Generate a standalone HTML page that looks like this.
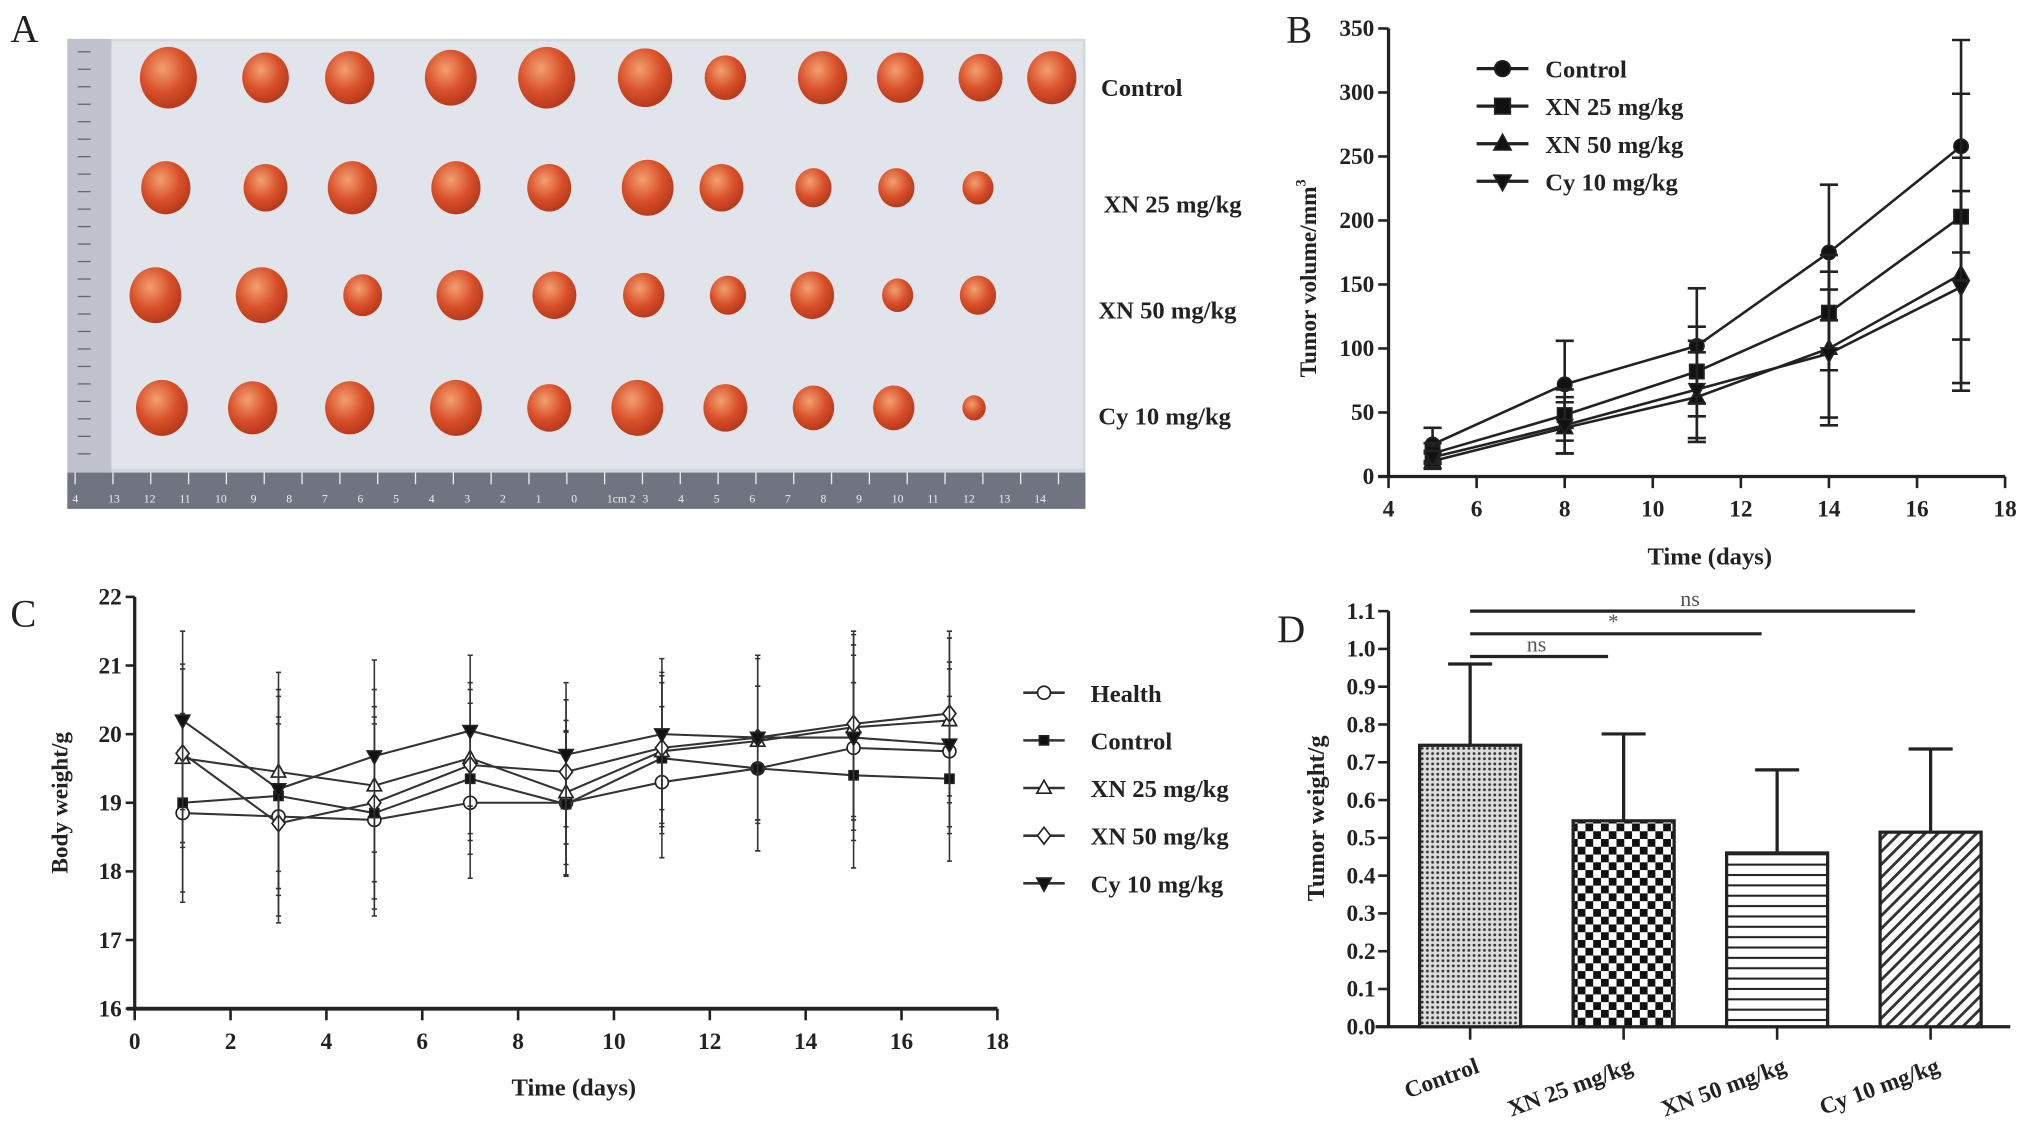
<!DOCTYPE html>
<html><head><meta charset="utf-8"><style>
body{margin:0;background:#fff}
svg{display:block}
text{font-family:"Liberation Serif",serif;font-weight:bold;fill:#222}
text.n{font-weight:normal}
</style></head><body>
<svg id="s" width="2031" height="1142" viewBox="0 0 1568 882" preserveAspectRatio="none" xmlns="http://www.w3.org/2000/svg">
<defs>
<pattern id="pDots" width="4" height="4" patternUnits="userSpaceOnUse"><rect width="4" height="4" fill="#ddd"/><circle cx="2" cy="2" r="1.1" fill="#333"/></pattern>
<pattern id="pCheck" width="12" height="12" patternUnits="userSpaceOnUse"><rect width="12" height="12" fill="#fff"/><rect width="6" height="6" fill="#111"/><rect x="6" y="6" width="6" height="6" fill="#111"/></pattern>
<pattern id="pHoriz" width="8" height="8" patternUnits="userSpaceOnUse"><rect width="8" height="8" fill="#fff"/><rect y="3" width="8" height="1.6" fill="#222"/></pattern>
<pattern id="pDiag" width="7" height="7" patternUnits="userSpaceOnUse" patternTransform="rotate(45)"><rect width="7" height="7" fill="#fff"/><rect width="2.2" height="7" fill="#333"/></pattern>
<radialGradient id="tum" cx="40%" cy="35%" r="65%"><stop offset="0" stop-color="#f2a070"/><stop offset="0.6" stop-color="#d9502a"/><stop offset="1" stop-color="#b83a1c"/></radialGradient>
</defs>
<g id="A"></g><g id="B"></g><g id="C"></g><g id="D"></g>
</svg>
<script>
const NS="http://www.w3.org/2000/svg";
function mk(p,t,a,txt){const e=document.createElementNS(NS,t);for(const k in a)e.setAttribute(k,a[k]);if(txt!==undefined)e.textContent=txt;p.appendChild(e);return e;}
// ---------- Panel B data ----------
const bDays=[5,8,11,14,17];
const bNames=["Control","XN 25 mg/kg","XN 50 mg/kg","Cy 10 mg/kg"];
const bControl=[25,72,102,175,258];
const bXN25=[18,48,82,128,203];
const bXN50=[12,38,62,100,158];
const bCy=[15,40,68,96,148];
const bErrControl=[13,34,45,53,83];
const bErrXN25=[8,20,35,45,96];
const bErrXN50=[6,20,35,60,91];
const bErrCy=[5,22,38,50,75];
const bTicksY=[0,50,100,150,200,250,300,350];
const bTicksX=[4,6,8,10,12,14,16,18];
// ---------- Panel C data ----------
const cDays=[1,3,5,7,9,11,13,15,17];
const cNames=["Health","Control","XN 25 mg/kg","XN 50 mg/kg","Cy 10 mg/kg"];
const cHealth=[18.85,18.8,18.75,19.0,19.0,19.3,19.5,19.8,19.75];
const cControl=[19.0,19.1,18.85,19.35,18.98,19.65,19.5,19.4,19.35];
const cXN25=[19.65,19.45,19.25,19.65,19.15,19.75,19.9,20.1,20.2];
const cXN50=[19.72,18.7,19.0,19.55,19.45,19.8,19.95,20.15,20.3];
const cCy=[20.2,19.2,19.68,20.05,19.7,20.0,19.95,19.95,19.85];
const cErr=[1.3,1.45,1.4,1.1,1.05,1.1,1.2,1.35,1.2];
const cTicksY=[16,17,18,19,20,21,22];
const cTicksX=[0,2,4,6,8,10,12,14,16,18];
// ---------- Panel D data ----------
const dCats=["Control","XN 25 mg/kg","XN 50 mg/kg","Cy 10 mg/kg"];
const dVals=[0.745,0.545,0.46,0.515];
const dErr=[0.215,0.23,0.22,0.22];
const dTicksY=[0,0.1,0.2,0.3,0.4,0.5,0.6,0.7,0.8,0.9,1.0,1.1];
const dSig=[{a:0,b:1,y:0.98,t:"ns"},{a:0,b:2,y:1.04,t:"*"},{a:0,b:3,y:1.1,t:"ns"}];

// ---------- Panel A (photo) ----------
const A=document.getElementById('A');
let e=mk(A,'text',{x:8,y:32,'font-size':30,class:'n'},'A');

e=mk(A,'rect',{x:52,y:30,width:786,height:363,fill:'#d4d7e0'});

mk(A,'rect',{x:62,y:32,width:774,height:330,fill:'#e2e4ec'});
mk(A,'rect',{x:52,y:30,width:34,height:335,fill:'#bfc2cc'});
mk(A,'rect',{x:52,y:365,width:786,height:28,fill:'#6f7480'});
for(let i=0;i<=26;i++){const x=58+i*29.2;mk(A,'line',{x1:x,y1:365,x2:x,y2:374,stroke:'#eee','stroke-width':1});}
const rulerN=["4","13","12","11","10","9","8","7","6","5","4","3","2","1","0","1cm 2","3","4","5","6","7","8","9","10","11","12","13","14"];
rulerN.forEach((t,i)=>mk(A,'text',{x:56+i*27.5,y:388,'font-size':9,class:'n',style:'fill:#eee'},t));
for(let i=0;i<24;i++){mk(A,'line',{x1:60,y1:40+i*13.5,x2:70,y2:40+i*13.5,stroke:'#666','stroke-width':1});}
const rowsY=[60,145,228,315];
const rowsX=[[130,205,270,348,422,498,560,635,695,757,812],[128,205,272,352,424,500,557,628,692,755],[120,202,280,355,428,497,562,627,693,755],[125,195,270,352,424,492,560,628,690,752]];
const rowsR=[[22,18,19,20,22,21,16,19,18,17,19],[19,17,19,19,17,20,17,14,14,12],[20,20,15,18,17,16,14,17,12,14],[20,19,19,20,17,20,17,16,16,9]];
rowsX.forEach((r,ri)=>r.forEach((x,i)=>{const rr=rowsR[ri][i];const t=mk(A,'ellipse',{cx:x,cy:rowsY[ri],rx:rr,ry:rr*1.08,fill:'url(#tum)'});}));
[["Control",850,74],["XN 25 mg/kg",852,164],["XN 50 mg/kg",848,246],["Cy 10 mg/kg",848,328]].forEach(([t,x,y])=>{const l=mk(A,'text',{x:x,y:y,'font-size':19},t);});

// ---------- marker helper ----------
function marker(g,type,x,y,s,fill){
 if(type==='circle')return mk(g,'circle',{cx:x,cy:y,r:s,fill:fill,stroke:'#222','stroke-width':1.3});
 if(type==='square')return mk(g,'rect',{x:x-s,y:y-s,width:2*s,height:2*s,fill:fill,stroke:'#222','stroke-width':1.3});
 if(type==='tri')return mk(g,'polygon',{points:`${x},${y-s*1.2} ${x-s*1.1},${y+s*0.8} ${x+s*1.1},${y+s*0.8}`,fill:fill,stroke:'#222','stroke-width':1.3});
 if(type==='itri')return mk(g,'polygon',{points:`${x},${y+s*1.2} ${x-s*1.1},${y-s*0.8} ${x+s*1.1},${y-s*0.8}`,fill:fill,stroke:'#222','stroke-width':1.3});
 if(type==='diamond')return mk(g,'polygon',{points:`${x},${y-s*1.3} ${x-s},${y} ${x},${y+s*1.3} ${x+s},${y}`,fill:fill,stroke:'#222','stroke-width':1.3});
}

// ---------- Panel B ----------
const B=document.getElementById('B');
const bx=v=>1072+(v-4)*(1548-1072)/14, by=v=>368-v*(368-22)/350;
e=mk(B,'text',{x:993,y:33,'font-size':30,class:'n'},'B');

e=mk(B,'line',{x1:bx(4),y1:by(0),x2:bx(4),y2:by(350),stroke:'#222','stroke-width':2.5});

e=mk(B,'line',{x1:bx(4)-8,y1:by(0),x2:bx(18),y2:by(0),stroke:'#222','stroke-width':2.5});

bTicksY.forEach(v=>{mk(B,'line',{x1:bx(4)-8,y1:by(v),x2:bx(4),y2:by(v),stroke:'#222','stroke-width':2});const t=mk(B,'text',{x:bx(4)-11,y:by(v)+6,'font-size':18,'text-anchor':'end'},v);});
bTicksX.forEach(v=>{mk(B,'line',{x1:bx(v),y1:by(0),x2:bx(v),y2:by(0)+9,stroke:'#222','stroke-width':2});const t=mk(B,'text',{x:bx(v),y:by(0)+31,'font-size':18,'text-anchor':'middle'},v);});
e=mk(B,'text',{x:1320,y:436,'font-size':19,'text-anchor':'middle'},'Time (days)');

e=mk(B,'text',{transform:'translate(1016,215) rotate(-90)','font-size':18,'text-anchor':'middle'});
e.innerHTML='Tumor volume/mm<tspan dy="-8" font-size="11">3</tspan>';

const bSeries=[bControl,bXN25,bXN50,bCy], bErrs=[bErrControl,bErrXN25,bErrXN50,bErrCy], bMk=['circle','square','tri','itri'];
const bKeys=['control','xn25','xn50','cy10'];
bSeries.forEach((s,si)=>{
 const g=mk(B,'g',{});
 s.forEach((v,i)=>{const x=bx(bDays[i]),e1=by(v+bErrs[si][i]),e2=by(Math.max(0,v-bErrs[si][i]));
  const eb=mk(g,'path',{d:`M${x},${e1}V${e2}M${x-7},${e1}H${x+7}M${x-7},${e2}H${x+7}`,stroke:'#222','stroke-width':2,fill:'none'});
  });
 const l=mk(g,'polyline',{points:s.map((v,i)=>bx(bDays[i])+','+by(v)).join(' '),fill:'none',stroke:'#222','stroke-width':2});
 
 s.forEach((v,i)=>{const m=marker(g,bMk[si],bx(bDays[i]),by(v),5.5,'#111');});
});
bNames.forEach((n,i)=>{const y=53+i*29;const g=mk(B,'g',{});
 mk(g,'line',{x1:1140,y1:y,x2:1180,y2:y,stroke:'#222','stroke-width':2.5});marker(g,bMk[i],1160,y,6,'#111');
 mk(g,'text',{x:1193,y:y+7,'font-size':19},n);});

// ---------- Panel C ----------
const C=document.getElementById('C');
const cx=v=>104+v*(770-104)/18, cy=v=>779-(v-16)*(779-461)/6;
e=mk(C,'text',{x:8,y:484,'font-size':30,class:'n'},'C');

e=mk(C,'line',{x1:cx(0),y1:cy(16)+1,x2:cx(0),y2:cy(22),stroke:'#222','stroke-width':2.5});

e=mk(C,'line',{x1:cx(0)-6,y1:cy(16),x2:cx(18),y2:cy(16),stroke:'#222','stroke-width':3});

cTicksY.forEach(v=>{mk(C,'line',{x1:cx(0)-7,y1:cy(v),x2:cx(0),y2:cy(v),stroke:'#222','stroke-width':2});const t=mk(C,'text',{x:cx(0)-10,y:cy(v)+6,'font-size':18,'text-anchor':'end'},v);});
cTicksX.forEach(v=>{mk(C,'line',{x1:cx(v),y1:cy(16),x2:cx(v),y2:cy(16)+9,stroke:'#222','stroke-width':2});const t=mk(C,'text',{x:cx(v),y:cy(16)+31,'font-size':18,'text-anchor':'middle'},v);});
e=mk(C,'text',{x:443,y:846,'font-size':19,'text-anchor':'middle'},'Time (days)');

e=mk(C,'text',{transform:'translate(52,620) rotate(-90)','font-size':18,'text-anchor':'middle'},'Body weight/g');

const cSeries=[cHealth,cControl,cXN25,cXN50,cCy], cMk=['circle','square','tri','diamond','itri'], cFill=['#fff','#111','#fff','#fff','#111'], cKeys=['health','control','xn25','xn50','cy10'];
cSeries.forEach((s,si)=>{
 const g=mk(C,'g',{});
 s.forEach((v,i)=>{const x=cx(cDays[i]),e1=cy(v+cErr[i]),e2=cy(v-cErr[i]);
  const eb=mk(g,'path',{d:`M${x},${e1}V${e2}M${x-2},${e1}H${x+2}M${x-2},${e2}H${x+2}`,stroke:'#333','stroke-width':1.2,fill:'none'});
  });
 const l=mk(g,'polyline',{points:s.map((v,i)=>cx(cDays[i])+','+cy(v)).join(' '),fill:'none',stroke:'#333','stroke-width':1.6});
 
 s.forEach((v,i)=>{const m=marker(g,cMk[si],cx(cDays[i]),cy(v),cMk[si]==='square'?3.5:5,cFill[si]);});
});
cNames.forEach((n,i)=>{const y=535+i*36.8;const g=mk(C,'g',{});
 mk(g,'line',{x1:790,y1:y,x2:822,y2:y,stroke:'#333','stroke-width':2});marker(g,cMk[i],806,y,cMk[i]==='square'?3.5:5,cFill[i]);
 mk(g,'text',{x:842,y:y+7,'font-size':19},n);});

// ---------- Panel D ----------
const D=document.getElementById('D');
const dy=v=>793-v*(793-472)/1.1, dxc=i=>1135+i*118.5, bw=78;
e=mk(D,'text',{x:986,y:496,'font-size':30,class:'n'},'D');

e=mk(D,'line',{x1:1072,y1:dy(0),x2:1072,y2:dy(1.1),stroke:'#222','stroke-width':2.5});

e=mk(D,'line',{x1:1062,y1:dy(0),x2:1552,y2:dy(0),stroke:'#222','stroke-width':2.5});

dTicksY.forEach(v=>{mk(D,'line',{x1:1064,y1:dy(v),x2:1072,y2:dy(v),stroke:'#222','stroke-width':2});const t=mk(D,'text',{x:1062,y:dy(v)+6,'font-size':18,'text-anchor':'end'},v.toFixed(1));});
e=mk(D,'text',{transform:'translate(1022,632) rotate(-90)','font-size':19,'text-anchor':'middle'},'Tumor weight/g');

const pats=['url(#pDots)','url(#pCheck)','url(#pHoriz)','url(#pDiag)'];
dCats.forEach((c,i)=>{const x=dxc(i);
 const eb=mk(D,'path',{d:`M${x},${dy(dVals[i])}V${dy(dVals[i]+dErr[i])}M${x-17},${dy(dVals[i]+dErr[i])}H${x+17}`,stroke:'#222','stroke-width':2.5,fill:'none'});
 
 const r=mk(D,'rect',{x:x-bw/2,y:dy(dVals[i]),width:bw,height:dy(0)-dy(dVals[i]),fill:pats[i],stroke:'#222','stroke-width':2.5});
 
 mk(D,'line',{x1:x,y1:dy(0),x2:x,y2:dy(0)+10,stroke:'#222','stroke-width':2});
 const t=mk(D,'text',{transform:`translate(${x+8},${dy(0)+35}) rotate(-20)`,'font-size':18,'text-anchor':'end'},c);
 
});
dSig.forEach(s=>{const g=mk(D,'g',{});
 mk(g,'line',{x1:dxc(s.a),y1:dy(s.y),x2:dxc(s.b)-12,y2:dy(s.y),stroke:'#222','stroke-width':2.5});
 mk(g,'text',{x:(dxc(s.a)+dxc(s.b))/2-8,y:dy(s.y)-4,'font-size':s.t==='*'?16:17,class:'n','text-anchor':'middle',style:'fill:#555'},s.t);});
</script>
</body></html>
